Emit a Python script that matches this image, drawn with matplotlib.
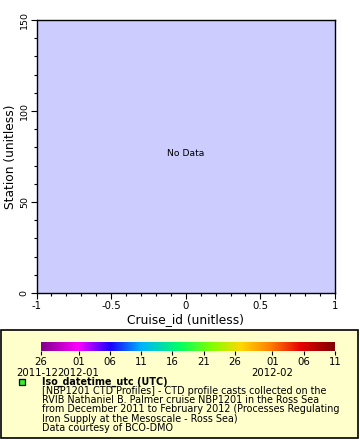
import matplotlib
matplotlib.use("Agg")
import matplotlib.pyplot as plt
import numpy as np
from matplotlib.colors import LinearSegmentedColormap
from matplotlib.patches import Rectangle
from matplotlib.ticker import MultipleLocator
import datetime as dt
import matplotlib.dates as mdates

# ---- data ----
cruise_id = []          # no data points
station = []
x_limits = [-1, 1]
y_limits = [0, 150]
x_ticks = [-1, -0.5, 0, 0.5, 1]
x_tick_labels = ["-1", "-0.5", "0", "0.5", "1"]
y_ticks = [0, 50, 100, 150]
y_tick_labels = ["0", "50", "100", "150"]
cbar_start = "2011-12-26"
cbar_end = "2012-02-11"
cbar_tick_dates = ["2011-12-26", "2012-01-01", "2012-01-06", "2012-01-11", "2012-01-16",
                   "2012-01-21", "2012-01-26", "2012-02-01", "2012-02-06", "2012-02-11"]
cbar_tick_labels = ["26", "01", "06", "11", "16", "21", "26", "01", "06", "11"]
month_label_dates = ["2011-12-26", "2012-01-01", "2012-02-01"]
month_labels = ["2011-12", "2012-01", "2012-02"]
legend_title = "Iso_datetime_utc (UTC)"
legend_lines = [
    "[NBP1201 CTD Profiles] - CTD profile casts collected on the",
    "RVIB Nathaniel B. Palmer cruise NBP1201 in the Ross Sea",
    "from December 2011 to February 2012 (Processes Regulating",
    "Iron Supply at the Mesoscale - Ross Sea)",
    "Data courtesy of BCO-DMO",
]

plt.rcParams['font.family'] = ['DejaVu Sans']

W, H = 360, 440
fig = plt.figure(figsize=(W / 100, H / 100), dpi=100)

def fx(px):
    return px / W

def fy(py):
    return 1 - py / H

# legend box (behind everything)
fig.patches.append(Rectangle((fx(1), fy(438)), fx(358) - fx(1), fy(330) - fy(438),
                             transform=fig.transFigure, facecolor="#ffffcc",
                             edgecolor="black", linewidth=1.2, zorder=-10))

# main axes
ax = fig.add_axes([fx(36.5), fy(293), fx(335) - fx(36.5), fy(20) - fy(293)])
ax.set_facecolor("#ccccff")
ax.scatter(cruise_id, station)
ax.set_xlim(*x_limits)
ax.set_ylim(*y_limits)
ax.set_xticks(x_ticks)
ax.set_xticklabels(x_tick_labels, fontsize=7.3)
ax.set_yticks(y_ticks)
ax.set_yticklabels(y_tick_labels, fontsize=6.8, rotation=90, va="center")
ax.xaxis.set_minor_locator(MultipleLocator(0.1))
ax.yaxis.set_minor_locator(MultipleLocator(10))
ax.tick_params(which="major", direction="out", length=4, width=0.8, pad=1.5)
ax.tick_params(which="minor", direction="out", length=2, width=0.8)
for s in ax.spines.values():
    s.set_linewidth(1.0)
ax.set_xlabel("Cruise_id (unitless)", fontsize=8.8, labelpad=2)
ax.set_ylabel("Station (unitless)", fontsize=8.8, labelpad=2)
ax.text(0.5, 0.51, "No Data", transform=ax.transAxes, ha="center", va="center", fontsize=6.7)

# colorbar
stops = [
    (0.0, (0.5, 0.0, 0.55)),
    (0.125, (1.0, 0.0, 1.0)),
    (0.235, (0.1, 0.0, 1.0)),
    (0.34, (0.0, 0.7, 1.0)),
    (0.47, (0.0, 1.0, 0.4)),
    (0.58, (0.5, 1.0, 0.0)),
    (0.68, (1.0, 0.85, 0.0)),
    (0.78, (1.0, 0.5, 0.0)),
    (0.885, (0.9, 0.0, 0.0)),
    (1.0, (0.5, 0.0, 0.0)),
]
cmap = LinearSegmentedColormap.from_list("rainbow2", stops)
t0 = mdates.date2num(dt.datetime.fromisoformat(cbar_start))
t1 = mdates.date2num(dt.datetime.fromisoformat(cbar_end))
cax = fig.add_axes([fx(41), fy(351), fx(335) - fx(41), fy(342) - fy(351)])
grad = np.linspace(t0, t1, 512).reshape(1, -1)
cax.imshow(grad, aspect="auto", cmap=cmap, extent=[t0, t1, 0, 1])
cax.set_xlim(t0, t1)
cax.set_yticks([])
for s in cax.spines.values():
    s.set_visible(False)
tick_nums = [mdates.date2num(dt.datetime.fromisoformat(d)) for d in cbar_tick_dates]
cax.set_xticks(tick_nums)
cax.set_xticklabels(cbar_tick_labels, fontsize=7.3)
cax.tick_params(axis="x", direction="out", length=3, width=0.8, pad=1)
month_offsets_px = [-4, 0, 0]  # small nudge so first two labels do not collide
for d, lab, off in zip(month_label_dates, month_labels, month_offsets_px):
    xn = mdates.date2num(dt.datetime.fromisoformat(d))
    xfig = fx(41) + (xn - t0) / (t1 - t0) * (fx(335) - fx(41)) + fx(off)
    fig.text(xfig, fy(372.5), lab, ha="center", va="center", fontsize=7.3)

# legend entry
fig.patches.append(Rectangle((fx(18.5), fy(385)), fx(6), fy(379) - fy(385),
                             transform=fig.transFigure, facecolor="#33ee33",
                             edgecolor="black", linewidth=0.9))
fig.text(fx(42), fy(382), legend_title, fontsize=6.9, fontweight="bold", va="center")
for i, line in enumerate(legend_lines):
    fig.text(fx(42), fy(391.2 + 9.1 * i), line, fontsize=6.9, va="center")

fig.savefig("out.png", dpi=100)
